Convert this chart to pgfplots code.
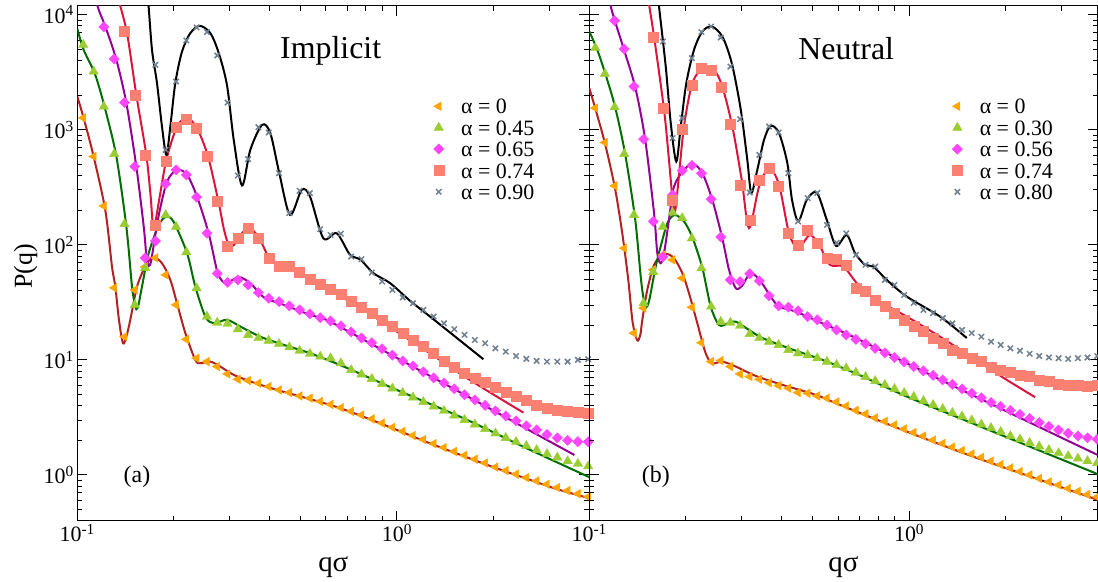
\documentclass[border=0pt]{standalone}
\usepackage{pgfplots}
\pgfplotsset{compat=1.18}
\usepackage{pgfplotstable}
\usepackage{fontspec}
\setmainfont{Liberation Serif}

\definecolor{cA0}{RGB}{255,165,0}
\definecolor{cA1}{RGB}{154,205,50}
\definecolor{cA2}{RGB}{255,70,255}
\definecolor{cA3}{RGB}{250,128,114}
\definecolor{cA4}{RGB}{112,128,144}
\definecolor{lA0}{RGB}{178,34,34}
\definecolor{lA1}{RGB}{0,110,0}
\definecolor{lA2}{RGB}{148,0,148}
\definecolor{lA3}{RGB}{220,20,60}

% Implicit: marker data (alpha = 0, 0.45, 0.65, 0.74, 0.90)
\pgfplotstableread{
x a b c d e
0.1044 1271 5483 nan nan nan
0.1125 586 3214 nan nan nan
0.1211 218 1596 7870 nan nan
0.1305 42.3 618 4121 nan nan
0.1405 15.9 152 1726 7161 nan
0.1514 40.6 30.1 480 2015 nan
0.1630 64.4 63.1 77.1 606 nan
0.1756 77.1 141 108 149 3673
0.1891 54.8 182 339 537 670
0.2037 30.1 144 449 1047 2630
0.2194 15.1 86.5 406 1247 5984
0.2362 10.35 42.0 260 1035 7762
0.2545 9.66 23.8 126 594 7080
0.2741 8.75 21.1 56.5 238 4426
0.2952 7.55 20.6 47.2 98.0 1726
0.3180 6.79 18.5 49.6 114 401
0.3424 6.61 16.5 44.9 140 556
0.3688 6.27 15.5 38.5 114 1055
0.3972 5.86 14.7 34.4 76.6 948
0.4278 5.48 13.8 32.1 64.8 420
0.4608 5.20 12.9 29.5 64.8 189
0.4963 4.86 12.0 27.2 57.4 295
0.5345 4.65 11.3 25.1 50.3 282
0.5757 4.36 10.7 23.3 45.8 137
0.6201 4.10 10.35 21.8 41.2 122
0.6679 3.84 9.35 19.8 37.2 125
0.7194 3.57 8.18 17.5 32.6 79.1
0.7749 3.32 7.48 15.5 28.7 75.1
0.8348 3.07 6.84 14.1 25.5 57.4
0.8990 2.82 6.18 12.5 22.3 48.0
0.9683 2.59 5.65 11.0 19.5 40.6
1.043 2.39 5.16 9.80 17.1 34.9
1.123 2.20 4.72 8.87 14.9 31.1
1.210 2.03 4.31 7.87 13.1 27.2
1.303 1.87 3.94 6.97 11.4 23.8
1.404 1.73 3.61 6.31 9.80 20.8
1.512 1.60 3.29 5.60 8.61 18.5
1.628 1.48 3.01 4.97 7.66 16.5
1.754 1.37 2.75 4.49 6.93 14.9
1.889 1.27 2.51 4.02 6.44 13.96
2.034 1.17 2.30 3.60 5.82 12.6
2.191 1.09 2.10 3.26 5.27 11.8
2.360 1.016 1.94 2.95 4.80 10.8
2.542 0.947 1.79 2.67 4.43 10.2
2.737 0.887 1.65 2.46 4.06 9.80
2.949 0.830 1.52 2.25 3.80 9.66
3.176 0.777 1.42 2.10 3.67 9.66
3.421 0.730 1.32 2.00 3.55 9.66
3.685 0.686 1.25 1.95 3.48 10.0
3.969 0.645 1.19 1.94 3.44 10.14
}\leftdata

% Neutral: marker data (alpha = 0, 0.30, 0.56, 0.74, 0.80)
\pgfplotstableread{
x a b c d e
0.1044 1545 5164 nan nan nan
0.1119 776 3069 nan nan nan
0.1200 326 1574 8913 nan nan
0.1286 93.6 618 5035 nan nan
0.1379 17.1 182 2382 nan nan
0.1478 28.2 31.1 830 nan nan
0.1585 60.7 58.2 160 6397 nan
0.1699 81.8 144 78.7 1545 5861
0.1821 74.1 191 272 246 847
0.1952 51.3 171 443 1014 1265
0.2093 28.7 114 490 2460 4198
0.2243 14.1 62.7 420 3443 7079
0.2404 9.66 29.1 250 3327 7907
0.2577 9.86 21.5 117 2350 6353
0.2763 8.75 21.1 49.6 1122 3548
0.2962 7.55 19.8 48.0 333 1239
0.3175 7.16 16.8 56.0 165 285
0.3403 6.79 15.5 48.6 367 606
0.3648 6.35 14.4 36.1 465 1069
0.3911 5.98 13.5 29.5 321 948
0.4193 5.68 12.2 28.7 126 420
0.4494 5.20 11.4 26.8 100 160
0.4818 5.13 11.0 23.8 135 255
0.5164 4.86 10.35 22.3 104 283
0.5536 4.65 9.66 20.1 76.6 149
0.5934 4.31 9.06 18.2 75.1 104
0.6361 3.98 8.47 16.5 67.0 126
0.6819 3.64 7.76 15.1 42.0 81.8
0.7310 3.39 7.11 13.8 39.3 67.0
0.7834 3.13 6.56 12.6 33.3 64.8
0.8398 2.92 6.07 11.5 29.1 49.6
0.9002 2.72 5.60 10.5 25.5 44.9
0.9652 2.51 5.16 9.61 22.3 36.7
1.034 2.34 4.77 8.77 19.5 31.3
1.109 2.18 4.40 8.02 17.6 27.2
1.189 2.01 4.06 7.33 15.5 25.5
1.274 1.88 3.75 6.70 14.0 23.1
1.366 1.75 3.46 6.12 12.2 20.8
1.464 1.63 3.23 5.60 11.4 18.2
1.570 1.52 2.98 5.12 10.35 17.1
1.683 1.42 2.75 4.68 9.66 15.9
1.804 1.32 2.56 4.27 8.65 14.4
1.934 1.23 2.37 3.94 8.07 13.5
2.073 1.15 2.18 3.64 7.87 12.6
2.222 1.07 2.04 3.36 7.41 12.0
2.382 1.00 1.90 3.10 7.16 11.3
2.553 0.932 1.77 2.86 6.70 10.8
2.737 0.869 1.65 2.64 6.47 10.5
2.934 0.818 1.55 2.46 6.18 10.35
3.145 0.763 1.46 2.30 6.07 10.2
3.372 0.719 1.39 2.18 6.07 10.35
3.614 0.677 1.32 2.10 5.94 10.5
3.874 0.644 1.27 2.04 6.07 10.8
}\rightdata

\pgfplotsset{
  mkA/.style={only marks, mark=triangle*, mark size=5bp, mark options={rotate=90, fill=cA0, draw=cA0}},
  mkB/.style={only marks, mark=triangle*, mark size=5.4bp, mark options={fill=cA1, draw=cA1}},
  mkC/.style={only marks, mark=square*, mark size=3.6bp, mark options={rotate=45, fill=cA2, draw=cA2}},
  mkD/.style={only marks, mark=square*, mark size=5bp, mark options={fill=cA3, draw=cA3}},
  mkE/.style={only marks, mark=x, mark size=3.8bp, mark options={draw=cA4, line width=1.5bp}},
  fitline/.style={no marks, smooth, line width=2bp, forget plot},
  mylegendstyle/.style={draw=none, fill=none, inner sep=0pt, outer sep=0pt, row sep=0pt,
      font=\fontsize{22}{22}\selectfont,
      nodes={inner sep=3bp, text height=15.4bp, text depth=0bp},
      /tikz/every odd column/.append style={column sep=14.3bp},
      anchor=north west},
}

\begin{document}
\begin{tikzpicture}
\begin{loglogaxis}[scale only axis, height=515bp, at={(0bp,0bp)}, anchor=south west, width=512bp,
  xmin=0.1, xmax=4, ymin=0.4, ymax=1.2e4,
  xtick={0.1,1}, xticklabels={10\textsuperscript{-1},10\textsuperscript{0}},
  ytick={1,10,100,1000,10000},
  yticklabels={10\textsuperscript{0},10\textsuperscript{1},10\textsuperscript{2},10\textsuperscript{3},10\textsuperscript{4}},
  minor xtick={0.2,0.3,0.4,0.5,0.6,0.7,0.8,0.9,2,3,4},
  minor ytick={0.4,0.5,0.6,0.7,0.8,0.9,2,3,4,5,6,7,8,9,20,30,40,50,60,70,80,90,200,300,400,500,600,700,800,900,2000,3000,4000,5000,6000,7000,8000,9000},
  tick align=inside, xtick pos=both, ytick pos=both,
  xticklabel pos=lower, yticklabel pos=left,
  major tick length=10bp, minor tick length=5bp,
  every tick/.append style={black, line width=1bp},
  axis line style={line width=1.2bp},
  tick label style={font=\fontsize{22}{24}\selectfont},
  xlabel={qσ},
  xlabel style={at={(axis description cs:0.5,-0.099)}, anchor=base, inner sep=0pt, font=\fontsize{29}{30}\selectfont},
  ylabel={P(q)},
  ylabel style={at={(axis description cs:-0.0885,0.494)}, anchor=base, inner sep=0pt, font=\fontsize{26}{28}\selectfont},
  legend cell align=left,
  legend style={mylegendstyle, at={(0.696,0.8255)}}]
\addplot[mkA] table[x=x,y=a] {\leftdata}; \addlegendentry{α = 0}
\addplot[mkB] table[x=x,y=b] {\leftdata}; \addlegendentry{α = 0.45}
\addplot[mkC] table[x=x,y=c] {\leftdata}; \addlegendentry{α = 0.65}
\addplot[mkD] table[x=x,y=d] {\leftdata}; \addlegendentry{α = 0.74}
\addplot[mkE] table[x=x,y=e] {\leftdata}; \addlegendentry{α = 0.90}
\addplot[fitline, lA0] coordinates {(0.1,1950) (0.1047,1265) (0.1125,586) (0.1224,199) (0.1284,64.8) (0.1315,43.4) (0.1350,22.3) (0.1390,13.96) (0.1426,16.2) (0.1465,22.3) (0.1538,43.4) (0.1632,64.8) (0.1725,78.2) (0.1841,69.3) (0.1955,49.6) (0.2051,31.1) (0.2178,17.1) (0.2340,10.0) (0.2427,9.35) (0.2608,9.66) (0.2803,8.75) (0.3087,7.41) (0.3565,6.35) (0.4217,5.48) (0.5111,4.72) (0.6329,3.98) (0.7670,3.29) (1.0,2.46) (1.270,1.88) (1.615,1.46) (2.054,1.14) (2.612,0.905) (3.195,0.748) (4.0,0.627)};
\addplot[fitline, lA1] coordinates {(0.1,7550) (0.1047,4966) (0.1138,3006) (0.1224,1493) (0.1325,586) (0.1424,144) (0.1483,43.4) (0.1510,31.9) (0.1530,27.6) (0.1554,30.1) (0.1594,43.4) (0.1673,84.7) (0.1799,149) (0.1900,176) (0.2002,158.5) (0.2205,84.7) (0.2340,43.4) (0.2516,23.8) (0.2673,20.8) (0.2941,22.3) (0.3237,19.5) (0.3739,15.9) (0.4426,13.5) (0.5362,11.4) (0.6820,8.75) (1.0,5.48) (1.615,3.11) (2.612,1.65) (4.004,0.955)};
\addplot[fitline, lA2] coordinates {(0.1128,18200) (0.1158,11800) (0.1224,7907) (0.1325,4064) (0.1424,1706) (0.1530,480) (0.1614,144) (0.1647,77.1) (0.1673,65.6) (0.1701,71.1) (0.1725,90.5) (0.1799,182) (0.1910,355) (0.2051,449) (0.2205,406) (0.2369,263) (0.2578,125) (0.2738,59.4) (0.2838,48.6) (0.2941,46.5) (0.3200,52.4) (0.3479,46.5) (0.3832,35.1) (0.4426,30.1) (0.5362,24.6) (0.6179,21.5) (1.0,10.4) (1.615,5.04) (2.612,2.42) (3.594,1.49)};
\addplot[fitline, lA3] coordinates {(0.1322,20100) (0.1348,13500) (0.1431,6934) (0.1530,2015) (0.1644,606) (0.1695,272) (0.1734,141) (0.1815,272) (0.1900,548) (0.2051,1069) (0.2205,1265) (0.2369,1035) (0.2565,586) (0.2771,231) (0.2879,135) (0.2985,98.0) (0.3094,100) (0.3229,120) (0.3434,141) (0.3695,117) (0.3972,78.7) (0.4318,67.0) (0.4758,60.7) (0.5362,51.3) (0.6179,40.6) (0.7854,27.2) (1.0,17.6) (1.270,11.4) (1.615,7.26) (2.054,4.80) (2.489,3.48)};
\addplot[fitline, black] coordinates {(0.1629,20100) (0.1665,13500) (0.1713,4966) (0.1776,2547) (0.1841,1069) (0.1900,606) (0.1955,1069) (0.2026,2547) (0.2127,4797) (0.2258,6934) (0.2416,8017) (0.2608,6934) (0.2771,4645) (0.2941,2438) (0.3087,818) (0.3277,328) (0.3479,670) (0.3785,1104) (0.4018,936) (0.4286,420) (0.4631,182) (0.5037,301) (0.5348,263) (0.5888,114) (0.6484,126) (0.7137,81.8) (0.7670,75.1) (0.8440,56.8) (0.9521,46.5) (1.100,32.6) (1.270,23.8) (1.865,10.14)};
\node[anchor=base west, inner sep=0pt, font=\fontsize{32}{34}\selectfont] at (rel axis cs:0.396,0.898) {Implicit};
\node[anchor=base west, inner sep=0pt, font=\fontsize{24}{26}\selectfont] at (rel axis cs:0.0902,0.0738) {(a)};
\end{loglogaxis}

\begin{loglogaxis}[scale only axis, height=515bp, at={(512bp,0bp)}, anchor=south west, width=508.4bp,
  xmin=0.1, xmax=3.89, ymin=0.4, ymax=1.2e4,
  xtick={0.1,1}, xticklabels={10\textsuperscript{-1},10\textsuperscript{0}},
  ytick={1,10,100,1000,10000}, yticklabels={},
  minor xtick={0.2,0.3,0.4,0.5,0.6,0.7,0.8,0.9,2,3},
  minor ytick={0.4,0.5,0.6,0.7,0.8,0.9,2,3,4,5,6,7,8,9,20,30,40,50,60,70,80,90,200,300,400,500,600,700,800,900,2000,3000,4000,5000,6000,7000,8000,9000},
  tick align=inside, xtick pos=both, ytick pos=both,
  xticklabel pos=lower, yticklabel pos=left,
  major tick length=10bp, minor tick length=5bp,
  every tick/.append style={black, line width=1bp},
  axis line style={line width=1.2bp},
  tick label style={font=\fontsize{22}{24}\selectfont},
  xlabel={qσ},
  xlabel style={at={(axis description cs:0.5,-0.099)}, anchor=base, inner sep=0pt, font=\fontsize{29}{30}\selectfont},
  legend cell align=left,
  legend style={mylegendstyle, at={(0.714,0.8255)}}]
\addplot[mkA] table[x=x,y=a] {\rightdata}; \addlegendentry{α = 0}
\addplot[mkB] table[x=x,y=b] {\rightdata}; \addlegendentry{α = 0.30}
\addplot[mkC] table[x=x,y=c] {\rightdata}; \addlegendentry{α = 0.56}
\addplot[mkD] table[x=x,y=d] {\rightdata}; \addlegendentry{α = 0.74}
\addplot[mkE] table[x=x,y=e] {\rightdata}; \addlegendentry{α = 0.80}
\addplot[fitline, lA0] coordinates {(0.1,2307) (0.1047,1493) (0.1119,766) (0.1203,311) (0.1268,126) (0.1324,49.6) (0.1363,22.3) (0.1395,16.2) (0.1420,14.7) (0.1446,16.8) (0.1465,22.3) (0.1518,40.6) (0.1594,67.0) (0.1672,79.1) (0.1741,83.6) (0.1840,76.6) (0.1954,56.8) (0.2050,38.0) (0.2177,20.8) (0.2312,11.4) (0.2425,9.35) (0.2606,9.66) (0.2871,8.75) (0.3314,7.26) (0.4015,6.07) (0.5108,4.97) (0.6084,4.06) (0.9835,2.38) (1.589,1.44) (2.570,0.905) (3.893,0.607)};
\addplot[fitline, lA1] coordinates {(0.1,7161) (0.1059,4966) (0.1125,3006) (0.1203,1596) (0.1293,627) (0.1390,171) (0.1448,53.0) (0.1477,34.6) (0.1508,28.7) (0.1532,31.3) (0.1556,38.0) (0.1613,64.8) (0.1692,110) (0.1762,158.5) (0.1853,182) (0.1978,160) (0.2101,116) (0.2257,63.1) (0.2397,29.1) (0.2545,20.1) (0.2696,20.6) (0.2871,21.5) (0.3158,18.2) (0.3476,15.5) (0.4214,12.6) (0.5356,10.0) (0.6978,7.41) (0.9835,4.80) (1.589,2.79) (2.570,1.62) (3.893,1.016)};
\addplot[fitline, lA2] coordinates {(0.1136,20100) (0.1167,11800) (0.1284,4966) (0.1390,2382) (0.1493,847) (0.1594,189) (0.1632,84.7) (0.1672,69.3) (0.1713,84.7) (0.1775,165) (0.1840,321) (0.1978,449) (0.2111,506) (0.2257,420) (0.2425,246) (0.2606,114) (0.2735,60.7) (0.2871,42.0) (0.3003,44.0) (0.3198,56.8) (0.3437,48.0) (0.3692,35.5) (0.3921,29.1) (0.4421,26.3) (0.5356,20.8) (0.6813,15.5) (1.250,6.74) (2.021,3.56) (3.265,1.88) (3.893,1.49)};
\addplot[fitline, lA3] coordinates {(0.1505,20100) (0.1530,13500) (0.1594,6471) (0.1713,1493) (0.1775,548) (0.1818,263) (0.1853,194) (0.1895,333) (0.1978,1069) (0.2101,2547) (0.2285,3548) (0.2455,3327) (0.2606,2382) (0.2801,1069) (0.2997,367) (0.3158,140) (0.3396,321) (0.3648,465) (0.3921,333) (0.4214,126) (0.4505,93.6) (0.4900,122) (0.5266,96.6) (0.5660,67.0) (0.6231,64.8) (0.6863,46.5) (0.7732,34.4) (0.9835,23.8) (1.250,15.9) (1.589,10.35) (2.021,6.70) (2.478,4.74)};
\addplot[fitline, black] coordinates {(0.1617,20100) (0.1652,11800) (0.1734,3548) (0.1798,1143) (0.1871,530) (0.1932,1069) (0.2011,2547) (0.2126,4966) (0.2257,7161) (0.2415,7907) (0.2606,6471) (0.2789,3802) (0.2977,1493) (0.3120,548) (0.3211,283) (0.3353,449) (0.3519,818) (0.3692,1084) (0.3921,936) (0.4162,513) (0.4305,246) (0.4505,160) (0.4786,246) (0.5143,285) (0.5528,165) (0.5911,98.0) (0.6384,122) (0.6778,84.7) (0.7286,67.0) (0.7732,64.8) (0.8515,49.6) (0.9835,35.5) (1.250,23.8) (1.515,15.5)};
\node[anchor=base west, inner sep=0pt, font=\fontsize{32}{34}\selectfont] at (rel axis cs:0.411,0.896) {Neutral};
\node[anchor=base west, inner sep=0pt, font=\fontsize{24}{26}\selectfont] at (rel axis cs:0.103,0.0738) {(b)};
\end{loglogaxis}
\pgfresetboundingbox
\path[use as bounding box] (-77.3bp,-61.3bp) rectangle (1020.7bp,520.7bp);
\end{tikzpicture}
\end{document}
